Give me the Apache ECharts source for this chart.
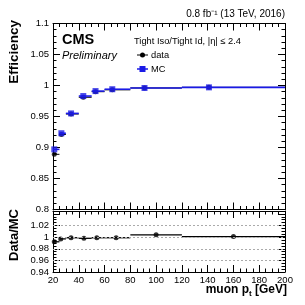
<!DOCTYPE html>
<html><head><meta charset="utf-8">
<script src="https://cdn.jsdelivr.net/npm/echarts@6/dist/echarts.min.js"></script>
<style>html,body{margin:0;padding:0;background:#fff}#c{width:305px;height:305px}</style>
</head><body><div id="c"></div>
<script>
const binLo = [20, 25, 30, 40, 50, 60, 80, 120];
const binHi = [25, 30, 40, 50, 60, 80, 120, 200];
const effX = [21, 26.5, 34, 43.5, 53, 66, 91, 141];
const dataEff = [0.889, 0.921, 0.954, 0.981, 0.990, 0.993, 0.996, 0.997];
const mcEff = [0.897, 0.923, 0.955, 0.983, 0.991, 0.994, 0.996, 0.997];
const ratioX = [21, 26, 34, 44, 54, 69, 100, 160];
const ratioVal = [0.992, 0.997, 0.999, 0.998, 0.999, 0.999, 1.004, 1.001];
const ratioRefLines = [0.96, 0.98, 1.0, 1.02];

const FONT = 'Liberation Sans';
const blue = '#1a1ae6';

function hbar(color, width) {
  return function (params, api) {
    const y = api.value(1);
    const a = api.coord([api.value(2), y]);
    const b = api.coord([api.value(3), y]);
    return {type: 'line', shape: {x1: a[0], y1: a[1], x2: b[0], y2: b[1]},
            style: {stroke: color, lineWidth: width}};
  };
}
function rows(xs, ys) { return xs.map((x, i) => [x, ys[i], binLo[i], binHi[i]]); }

const tickCommon = {
  axisLine: {lineStyle: {color: '#000', width: 1}},
  axisTick: {inside: true, length: 7, lineStyle: {color: '#000'}},
  minorTick: {show: true, splitNumber: 4, length: 3.5, lineStyle: {color: '#000'}},
  splitLine: {show: false}
};
function xAx(grid, pos, labels) {
  return Object.assign({type: 'value', gridIndex: grid, position: pos, min: 20, max: 200, interval: 20,
    axisLabel: {show: labels, color: '#000', fontFamily: FONT, fontSize: 9.5, margin: 3}}, JSON.parse(JSON.stringify(tickCommon)));
}
function yAx(grid, pos, min, max, interval, labels, minorSplit, hideAbove) {
  const a = Object.assign({type: 'value', gridIndex: grid, position: pos, min: min, max: max, interval: interval,
    axisLabel: {show: labels, color: '#000', fontFamily: FONT, fontSize: 9.5, margin: 4,
      formatter: v => (hideAbove !== undefined && v > hideAbove) ? '' : String(+v.toFixed(2))}},
    JSON.parse(JSON.stringify(tickCommon)));
  a.minorTick.splitNumber = minorSplit;
  return a;
}

const chart = echarts.init(document.getElementById('c'));
chart.setOption({
  animation: false,
  grid: [
    {left: 53, right: 20, top: 23.5, height: 186},
    {left: 53, right: 20, top: 211, height: 61}
  ],
  xAxis: [
    xAx(0, 'bottom', false), xAx(0, 'top', false),
    xAx(1, 'bottom', true), xAx(1, 'top', false)
  ],
  yAxis: [
    yAx(0, 'left', 0.8, 1.1, 0.05, true, 5),
    yAx(0, 'right', 0.8, 1.1, 0.05, false, 5),
    yAx(1, 'left', 0.94, 1.045, 0.02, true, 4, 1.03),
    yAx(1, 'right', 0.94, 1.045, 0.02, false, 4)
  ],
  series: [
    {type: 'custom', xAxisIndex: 0, yAxisIndex: 0, renderItem: hbar('#000', 1),
     encode: {x: [0, 2, 3], y: 1}, data: rows(effX, dataEff), z: 2},
    {type: 'scatter', xAxisIndex: 0, yAxisIndex: 0, symbol: 'circle', symbolSize: 5,
     itemStyle: {color: '#000'}, data: effX.map((x, i) => [x, dataEff[i]]), z: 3},
    {type: 'custom', xAxisIndex: 0, yAxisIndex: 0, renderItem: hbar(blue, 1.6),
     encode: {x: [0, 2, 3], y: 1}, data: rows(effX, mcEff), z: 4},
    {type: 'scatter', xAxisIndex: 0, yAxisIndex: 0, symbol: 'rect', symbolSize: 6,
     itemStyle: {color: blue}, data: effX.map((x, i) => [x, mcEff[i]]), z: 5},
    {type: 'custom', xAxisIndex: 2, yAxisIndex: 2, renderItem: hbar('#000', 1.3),
     encode: {x: [0, 2, 3], y: 1}, data: rows(ratioX, ratioVal), z: 3,
     markLine: {silent: true, symbol: 'none', label: {show: false},
       lineStyle: {type: [2, 2], color: '#aaa', width: 1},
       data: ratioRefLines.map(v => ({yAxis: v}))}},
    {type: 'scatter', xAxisIndex: 2, yAxisIndex: 2, symbol: 'circle', symbolSize: 5,
     itemStyle: {color: '#000'}, data: ratioX.map((x, i) => [x, ratioVal[i]]), z: 4}
  ],
  graphic: [
    {type: 'text', x: 285, y: 14, style: {text: '0.8 fb\u207B\u00B9 (13 TeV, 2016)', textAlign: 'right', textVerticalAlign: 'middle', font: '10px ' + FONT, fill: '#000'}},
    {type: 'text', x: 62, y: 40, style: {text: 'CMS', textVerticalAlign: 'middle', font: 'bold 14.5px ' + FONT, fill: '#000'}},
    {type: 'text', x: 62, y: 56, style: {text: 'Preliminary', textVerticalAlign: 'middle', font: 'italic 11px ' + FONT, fill: '#000'}},
    {type: 'text', x: 134, y: 41, style: {text: 'Tight Iso/Tight Id, |\u03B7| \u2264 2.4', textVerticalAlign: 'middle', font: '9.3px ' + FONT, fill: '#000'}},
    {type: 'line', shape: {x1: 137, y1: 55, x2: 148, y2: 55}, style: {stroke: '#000', lineWidth: 1}},
    {type: 'circle', shape: {cx: 142.5, cy: 55, r: 2.5}, style: {fill: '#000'}},
    {type: 'text', x: 151, y: 55, style: {text: 'data', textVerticalAlign: 'middle', font: '9.3px ' + FONT, fill: '#000'}},
    {type: 'line', shape: {x1: 137, y1: 69, x2: 148, y2: 69}, style: {stroke: blue, lineWidth: 1.5}},
    {type: 'rect', shape: {x: 139.5, y: 66, width: 6, height: 6}, style: {fill: blue}},
    {type: 'text', x: 151, y: 69, style: {text: 'MC', textVerticalAlign: 'middle', font: '9.3px ' + FONT, fill: '#000'}},
    {type: 'text', x: 14, y: 20, rotation: Math.PI / 2, style: {text: 'Efficiency', textAlign: 'right', textVerticalAlign: 'middle', font: 'bold 13.5px ' + FONT, fill: '#000'}},
    {type: 'text', x: 14, y: 209, rotation: Math.PI / 2, style: {text: 'Data/MC', textAlign: 'right', textVerticalAlign: 'middle', font: 'bold 13px ' + FONT, fill: '#000'}},
    {type: 'text', x: 287, y: 291, style: {text: '{a|muon p}{s|t}{a| [GeV]}', textAlign: 'right', textVerticalAlign: 'middle',
      rich: {a: {font: 'bold 12px ' + FONT, fill: '#000', lineHeight: 14, verticalAlign: 'top'},
             s: {font: 'bold 8px ' + FONT, fill: '#000', lineHeight: 14, verticalAlign: 'bottom', padding: [8, 0, 0, 0]}}}}
  ]
});
</script></body></html>
